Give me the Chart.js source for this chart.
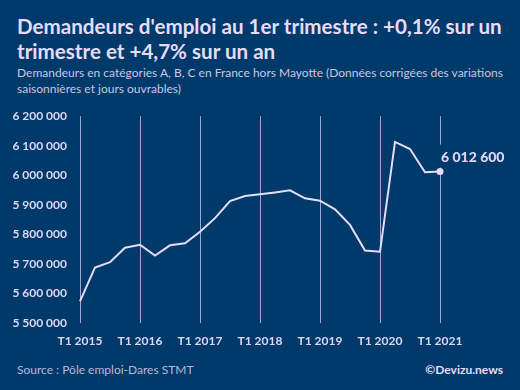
<!DOCTYPE html>
<html>
<head>
<meta charset="utf-8">
<script src="https://cdn.jsdelivr.net/npm/chart.js@4"></script>
<style>
  html, body { margin: 0; padding: 0; }
  body { width: 520px; height: 390px; background: #003a6b; position: relative; overflow: hidden; font-family: "Lato", sans-serif; }
  #title { position: absolute; left: 17px; top: 14px; width: 503px; color: #e4dcf8; font-weight: bold; font-size: 20.6px; line-height: 25px; }
  #subtitle { position: absolute; left: 17px; top: 65px; width: 500px; color: #c9c6e2; font-size: 12px; line-height: 16px; }
  #source { position: absolute; left: 17px; top: 362px; color: #b9b8d8; font-size: 12px; }
  #brand { position: absolute; right: 17px; top: 362px; color: #e4dcf8; font-size: 12px; font-weight: bold; }
  #wrap { position: absolute; left: 0; top: 96px; width: 520px; height: 254px; }
</style>
</head>
<body>
<div id="title">Demandeurs d'emploi au 1er trimestre : +0,1% sur un trimestre et +4,7% sur un an</div>
<div id="subtitle">Demandeurs en catégories A, B, C en France hors Mayotte (Données corrigées des variations saisonnières et jours ouvrables)</div>
<div id="wrap"><canvas id="chart"></canvas></div>
<div id="source">Source : Pôle emploi-Dares STMT</div>
<div id="brand">©Devizu.news</div>
<script>
// Demandeurs d'emploi, catégories A, B, C, par trimestre

const quarters = [
  "T1 2015", "T2 2015", "T3 2015", "T4 2015",
  "T1 2016", "T2 2016", "T3 2016", "T4 2016",
  "T1 2017", "T2 2017", "T3 2017", "T4 2017",
  "T1 2018", "T2 2018", "T3 2018", "T4 2018",
  "T1 2019", "T2 2019", "T3 2019", "T4 2019",
  "T1 2020", "T2 2020", "T3 2020", "T4 2020",
  "T1 2021"
];

const jobSeekers = [
  5573000, 5688000, 5706000, 5755000,
  5765000, 5728000, 5763000, 5770000,
  5809000, 5855000, 5913000, 5930000,
  5936000, 5942000, 5949000, 5922000,
  5914000, 5885000, 5832000, 5745000,
  5741000, 6113000, 6089000, 6010000,
  6012600
];

const lastLabel = "6 012 600";

const lavender = "#e6dcf6";
const textColor = "#ddd7f3";
const gridColor = "rgba(190, 185, 225, 0.85)";
const bgColor = "#003a6b";

const formatNumber = (v) => String(v).replace(/\B(?=(\d{3})+(?!\d))/g, " ");

// label for the last point, with a box that hides the grid line behind it
const lastValueLabel = {
  id: "lastValueLabel",
  afterDatasetsDraw(chart) {
    const meta = chart.getDatasetMeta(0);
    const pt = meta.data[meta.data.length - 1];
    const c = chart.ctx;
    c.save();
    c.font = "900 14px Lato";
    const w = c.measureText(lastLabel).width;
    c.fillStyle = bgColor;
    c.fillRect(pt.x - 3, pt.y - 27, w + 8, 23);
    c.fillStyle = textColor;
    c.textBaseline = "middle";
    c.fillText(lastLabel, pt.x + 1, pt.y - 14);
    c.restore();
  },
};

const ctx = document.getElementById("chart").getContext("2d");

const chart = new Chart(ctx, {
  type: "line",
  data: {
    labels: quarters,
    datasets: [
      {
        data: jobSeekers,
        borderColor: lavender,
        borderWidth: 2,
        tension: 0,
        pointRadius: jobSeekers.map((v, i) => (i === jobSeekers.length - 1 ? 3.5 : 0)),
        pointBackgroundColor: lavender,
        pointBorderWidth: 0,
      },
    ],
  },
  options: {
    responsive: true,
    maintainAspectRatio: false,
    animation: false,
    layout: { padding: { top: 13, right: 80, bottom: 0, left: 0 } },
    plugins: {
      legend: { display: false },
      tooltip: { enabled: false },
    },
    scales: {
      x: {
        offset: false,
        border: { display: false },
        grid: {
          drawTicks: false,
          lineWidth: 1,
          color: (c) => (c.index % 4 === 0 ? gridColor : "rgba(0,0,0,0)"),
        },
        ticks: {
          autoSkip: false,
          maxRotation: 0,
          padding: 11,
          color: textColor,
          font: { family: "Lato", weight: "bold", size: 12 },
          callback: (v, i) => (i % 4 === 0 ? quarters[i] : ""),
        },
        afterFit: (scale) => { scale.height = 27; },
      },
      y: {
        min: 5500000,
        max: 6200000,
        border: { display: false },
        grid: { display: false, drawTicks: false },
        ticks: {
          stepSize: 100000,
          padding: 13,
          color: textColor,
          font: { family: "Lato", weight: "bold", size: 12 },
          callback: (v) => formatNumber(v),
        },
        afterFit: (scale) => { scale.width = 80; },
      },
    },
  },
  plugins: [lastValueLabel],
});
</script>
</body>
</html>
